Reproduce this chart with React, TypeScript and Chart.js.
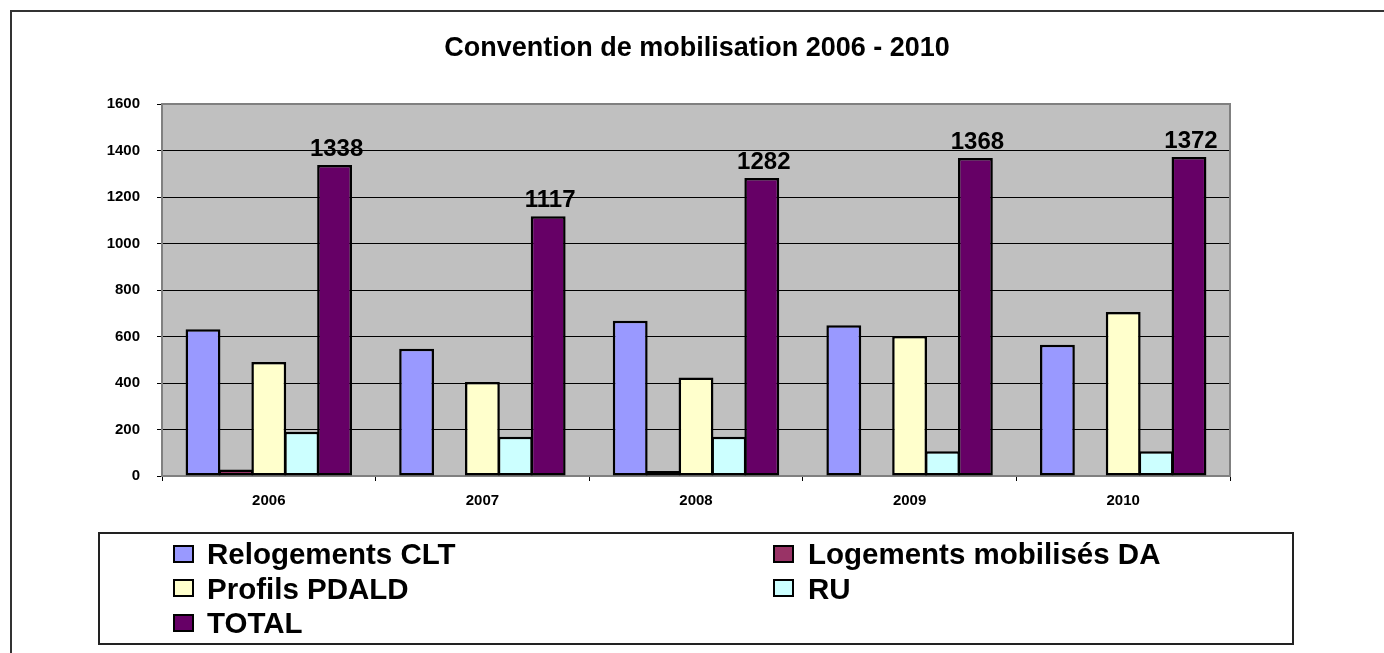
import React, { useEffect, useRef } from "react";
import { Chart, registerables } from "chart.js";

Chart.register(...registerables);

const TITLE = "Convention de mobilisation 2006 - 2010";
const years = ["2006", "2007", "2008", "2009", "2010"];
const relogementsCLT = [631, 547, 668, 648, 565];
const logementsDA = [28, null, 22, null, null];
const profilsPDALD = [490, 404, 424, 602, 705];
const ruValues = [190, 169, 169, 106, 106];
const totalValues = [1338, 1117, 1282, 1368, 1372];
const yTicks = [0, 200, 400, 600, 800, 1000, 1200, 1400, 1600];

const seriesNames = ["Relogements CLT", "Logements mobilisés DA", "Profils PDALD", "RU", "TOTAL"];
const seriesColors = ["#9999FF", "#993366", "#FFFFCC", "#CCFFFF", "#660066"];
const seriesData = [relogementsCLT, logementsDA, profilsPDALD, ruValues, totalValues];

const FONT = 'Arial, "Liberation Sans", sans-serif';

const plotBgPlugin = {
  id: "plotBg",
  beforeDraw(chart: any) {
    const { ctx, chartArea: a } = chart;
    ctx.save();
    ctx.fillStyle = "#C0C0C0";
    ctx.fillRect(a.left, a.top, a.right - a.left, a.bottom - a.top);
    ctx.restore();
  },
  beforeDatasetsDraw(chart: any) {
    const { ctx, chartArea: a } = chart;
    ctx.save();
    ctx.strokeStyle = "#808080";
    ctx.lineWidth = 2;
    ctx.strokeRect(a.left, a.top, a.right - a.left, a.bottom - a.top);
    ctx.restore();
  },
};

const totalLabelPlugin = {
  id: "totalLabels",
  afterDatasetsDraw(chart: any) {
    const { ctx } = chart;
    const meta = chart.getDatasetMeta(4);
    const ds = chart.data.datasets[4];
    ctx.save();
    ctx.font = `bold 24px ${FONT}`;
    ctx.fillStyle = "#000";
    ctx.textAlign = "center";
    ctx.textBaseline = "alphabetic";
    meta.data.forEach((bar: any, i: number) => {
      ctx.fillText(String(ds.data[i]), bar.x + 2, bar.y - 9);
    });
    ctx.restore();
  },
};

export default function App() {
  const canvasRef = useRef<HTMLCanvasElement>(null);

  useEffect(() => {
    document.body.style.margin = "0";
    const chart = new Chart(canvasRef.current!, {
      type: "bar",
      data: {
        labels: years,
        datasets: seriesNames.map((name, i) => ({
          label: name,
          data: seriesData[i],
          backgroundColor: seriesColors[i],
          borderColor: "#000",
          borderWidth: 2.5,
          borderSkipped: false,
          categoryPercentage: 0.77,
          barPercentage: 1.06,
        })) as any,
      },
      options: {
        animation: false,
        responsive: false,
        layout: { padding: { left: 0, right: 154, top: 104, bottom: 137 } },
        plugins: {
          legend: { display: false },
          title: { display: false },
          tooltip: { enabled: false },
        },
        scales: {
          x: {
            grid: { drawOnChartArea: false, drawTicks: true, tickLength: 5, color: "#000", offset: true },
            border: { display: false },
            ticks: { color: "#000", font: { family: FONT, size: 15, weight: "bold" }, padding: 11 },
            afterFit: (s: any) => { s.height = 40; },
          },
          y: {
            min: 0,
            max: 1600,
            afterBuildTicks: (s: any) => { s.ticks = yTicks.map((v) => ({ value: v })); },
            grid: { color: "#000", lineWidth: 1, tickLength: 5 },
            border: { display: false },
            ticks: {
              color: "#000",
              font: { family: FONT, size: 15, weight: "bold" },
              padding: 17,
              callback: (v: any) => String(v),
            },
            afterFit: (s: any) => { s.width = 162; },
          },
        },
      },
      plugins: [plotBgPlugin, totalLabelPlugin],
    });
    return () => chart.destroy();
  }, []);

  const legendRows = [
    [0, 1],
    [2, 3],
    [4],
  ];
  const colSwatchX = [173, 773];
  const colTextX = [207, 808];

  return (
    <div style={{ position: "relative", width: 1384, height: 653, overflow: "hidden", background: "#fff", fontFamily: FONT }}>
      <div style={{ position: "absolute", left: 10, top: 10, width: 1500, height: 800, borderLeft: "2px solid #333", borderTop: "2px solid #333" }} />
      <canvas ref={canvasRef} width={1384} height={653} style={{ position: "absolute", left: 0, top: 0 }} />
      <div style={{ position: "absolute", left: 0, width: 1394, top: 30, textAlign: "center", fontSize: 27, fontWeight: "bold", lineHeight: "34px", color: "#000" }}>
        {TITLE}
      </div>
      <div style={{ position: "absolute", left: 98, top: 532, width: 1196, height: 113, border: "2px solid #222", boxSizing: "border-box" }} />
      {legendRows.map((row, r) =>
        row.map((si, c) => (
          <React.Fragment key={si}>
            <div style={{ position: "absolute", left: colSwatchX[c], top: 537 + r * 34.5 + 7.5, width: 21, height: 18, background: seriesColors[si], border: "2px solid #000", boxSizing: "border-box" }} />
            <div style={{ position: "absolute", left: colTextX[c], top: 537 + r * 34.5, fontSize: 29.5, fontWeight: "bold", lineHeight: "33px", whiteSpace: "nowrap", color: "#000" }}>
              {seriesNames[si]}
            </div>
          </React.Fragment>
        ))
      )}
    </div>
  );
}
